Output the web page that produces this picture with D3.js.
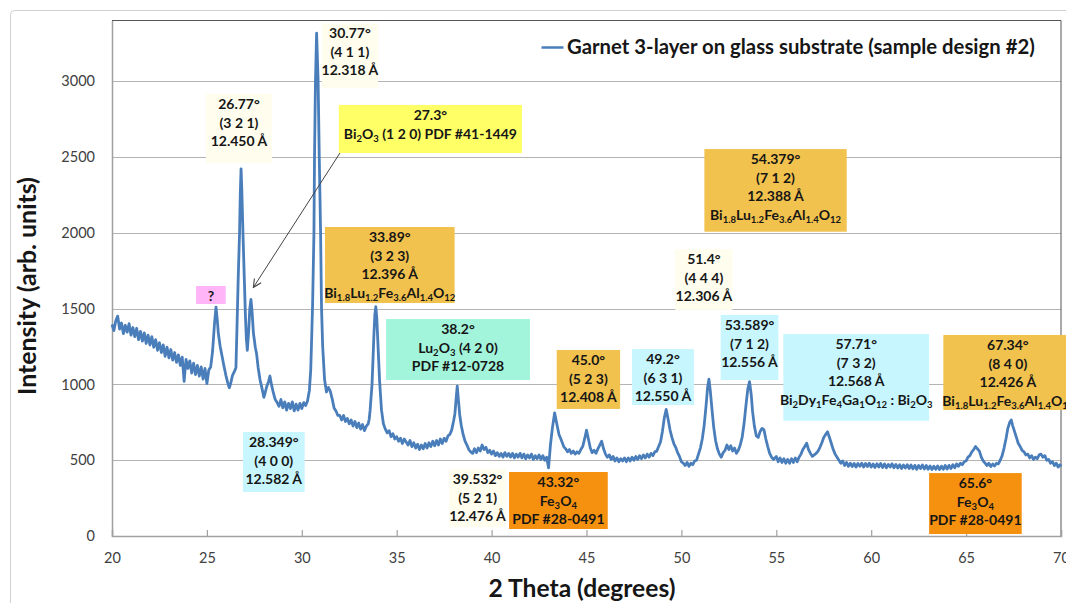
<!DOCTYPE html>
<html><head><meta charset="utf-8">
<script src="https://cdn.jsdelivr.net/npm/d3@7"></script>
<style>
body{margin:0;background:#fff;}
svg{display:block;font-family:Lato,"Open Sans","DejaVu Sans",sans-serif;}
</style>
</head><body>
<svg id="chart" width="1066" height="603"></svg>
<script>
// ---------------- DATA ----------------
const xTicks = [20,25,30,35,40,45,50,55,60,65,70];
const yTicks = [0,500,1000,1500,2000,2500,3000];
const seriesName = "Garnet 3-layer on glass substrate (sample design #2)";
const xTitle = "2 Theta (degrees)";
const yTitle = "Intensity (arb. units)";

// [2theta (deg), intensity (arb. units)]
const scan = [
[20.0,1395],[20.1,1355],[20.2,1420],[20.3,1450],[20.4,1365],[20.5,1405],[20.6,1335],[20.7,1390],[20.8,1345],[20.9,1400],
[21.0,1325],[21.1,1375],[21.2,1315],[21.3,1370],[21.4,1295],[21.5,1350],[21.6,1285],[21.7,1340],[21.8,1270],[21.9,1325],
[22.0,1260],[22.1,1315],[22.2,1245],[22.3,1295],[22.4,1225],[22.5,1275],[22.6,1210],[22.7,1260],[22.8,1185],[22.9,1245],
[23.0,1175],[23.1,1230],[23.2,1160],[23.3,1210],[23.4,1145],[23.5,1195],[23.6,1125],[23.7,1180],[23.8,1020],[23.9,1165],
[24.0,1105],[24.1,1155],[24.2,1075],[24.3,1140],[24.4,1065],[24.5,1125],[24.6,1055],[24.7,1115],[24.8,1035],[24.9,1105],
[25.0,1005],[25.1,1095],[25.2,1115],[25.3,1220],[25.4,1400],[25.48,1510],[25.55,1420],[25.6,1340],[25.7,1250],[25.8,1185],
[25.9,1120],[26.0,1060],[26.1,1010],[26.18,978],[26.25,1005],[26.35,1060],[26.45,1085],[26.53,1110],[26.6,1450],[26.65,1700],
[26.72,2000],[26.76,2260],[26.8,2422],[26.84,2280],[26.9,2000],[26.97,1700],[27.03,1450],[27.08,1300],[27.13,1225],[27.2,1350],
[27.26,1500],[27.32,1560],[27.38,1480],[27.45,1340],[27.55,1245],[27.62,1200],[27.7,1110],[27.8,1030],[27.9,975],[28.0,915],
[28.06,940],[28.15,985],[28.25,1020],[28.32,1055],[28.4,1000],[28.5,945],[28.6,900],[28.7,880],[28.8,855],[28.9,900],
[29.0,845],[29.1,885],[29.2,830],[29.3,875],[29.4,840],[29.5,885],[29.6,825],[29.7,870],[29.8,830],[29.9,875],
[30.0,840],[30.1,880],[30.2,860],[30.3,890],[30.4,960],[30.47,1093],[30.53,1350],[30.57,1533],[30.64,2000],[30.67,2500],
[30.72,3000],[30.78,3316],[30.86,3000],[30.92,2500],[30.99,2000],[31.04,1500],[31.1,1250],[31.2,1030],[31.3,950],[31.4,980],
[31.5,955],[31.6,905],[31.7,845],[31.8,825],[31.9,795],[32.0,795],[32.1,765],[32.2,795],[32.3,755],[32.4,775],
[32.5,740],[32.6,765],[32.7,725],[32.8,755],[32.9,715],[33.0,745],[33.1,705],[33.2,735],[33.3,695],[33.4,725],
[33.5,740],[33.55,770],[33.6,830],[33.7,1000],[33.75,1160],[33.8,1330],[33.85,1460],[33.9,1512],[33.95,1440],[34.0,1300],
[34.05,1160],[34.1,1020],[34.2,830],[34.3,740],[34.4,705],[34.5,680],[34.6,695],[34.7,655],[34.8,675],[34.9,640],
[35.0,655],[35.1,625],[35.2,645],[35.3,610],[35.4,640],[35.5,620],[35.6,600],[35.7,630],[35.8,590],[35.9,615],
[36.0,580],[36.1,605],[36.2,570],[36.3,600],[36.4,575],[36.5,610],[36.6,580],[36.7,615],[36.8,590],[36.9,625],
[37.0,595],[37.1,630],[37.2,600],[37.3,640],[37.4,610],[37.5,645],[37.6,625],[37.7,660],[37.8,670],[37.9,700],
[38.0,760],[38.07,810],[38.14,920],[38.19,988],[38.25,900],[38.32,800],[38.4,730],[38.5,670],[38.6,625],[38.7,600],
[38.8,570],[38.9,555],[39.0,545],[39.1,575],[39.2,550],[39.3,580],[39.4,560],[39.5,600],[39.6,570],[39.7,585],
[39.8,550],[39.9,565],[40.0,540],[40.1,560],[40.2,530],[40.3,550],[40.4,525],[40.5,545],[40.6,520],[40.7,550],
[40.8,525],[40.9,545],[41.0,520],[41.1,545],[41.2,515],[41.3,540],[41.4,520],[41.5,545],[41.6,515],[41.7,540],
[41.8,510],[41.9,535],[42.0,515],[42.1,540],[42.2,505],[42.3,530],[42.4,510],[42.5,535],[42.6,505],[42.7,530],
[42.8,500],[42.9,520],[43.0,450],[43.1,600],[43.2,710],[43.32,812],[43.45,730],[43.55,670],[43.65,640],[43.8,590],
[43.9,575],[44.0,555],[44.1,570],[44.2,545],[44.3,560],[44.4,540],[44.5,555],[44.6,545],[44.7,570],[44.8,590],
[44.9,640],[45.0,698],[45.1,640],[45.2,580],[45.3,550],[45.4,565],[45.5,545],[45.6,575],[45.7,600],[45.8,625],
[45.9,575],[46.0,540],[46.1,520],[46.2,535],[46.3,505],[46.4,525],[46.5,495],[46.6,515],[46.7,490],[46.8,510],
[46.9,495],[47.0,515],[47.1,490],[47.2,515],[47.3,495],[47.4,520],[47.5,500],[47.6,525],[47.7,505],[47.8,530],
[47.9,510],[48.0,535],[48.1,515],[48.2,540],[48.3,520],[48.4,545],[48.5,530],[48.6,555],[48.7,560],[48.8,590],
[48.9,620],[49.0,690],[49.1,780],[49.2,835],[49.3,770],[49.4,700],[49.5,650],[49.6,610],[49.7,585],[49.8,550],
[49.9,525],[50.0,490],[50.1,480],[50.2,465],[50.3,485],[50.4,460],[50.5,480],[50.6,470],[50.7,495],[50.8,500],
[50.9,540],[51.0,580],[51.1,640],[51.2,730],[51.3,860],[51.38,980],[51.45,1034],[51.52,960],[51.6,850],[51.7,720],
[51.8,630],[51.9,575],[52.0,540],[52.1,520],[52.2,550],[52.3,565],[52.4,600],[52.5,570],[52.6,595],[52.7,560],
[52.8,580],[52.9,545],[53.0,565],[53.1,600],[53.2,650],[53.3,740],[53.4,860],[53.5,970],[53.59,1018],[53.68,930],
[53.75,820],[53.85,720],[53.95,660],[54.05,650],[54.15,690],[54.25,710],[54.35,700],[54.45,640],[54.55,590],[54.65,545],
[54.75,520],[54.85,505],[55.0,525],[55.1,490],[55.2,515],[55.3,485],[55.4,510],[55.5,480],[55.6,505],[55.7,480],
[55.8,510],[55.9,485],[56.0,515],[56.1,490],[56.2,520],[56.3,540],[56.4,570],[56.5,590],[56.6,612],[56.7,570],
[56.8,545],[56.9,525],[57.0,535],[57.1,545],[57.2,560],[57.3,585],[57.4,615],[57.5,650],[57.6,670],[57.7,687],
[57.8,650],[57.9,610],[58.0,570],[58.1,540],[58.2,520],[58.3,500],[58.4,480],[58.5,495],[58.6,465],[58.7,485],
[58.8,460],[58.9,480],[59.0,458],[59.1,478],[59.2,455],[59.3,478],[59.4,460],[59.5,480],[59.6,455],[59.7,478],
[59.8,458],[59.9,480],[60.0,455],[60.1,475],[60.2,452],[60.3,476],[60.4,455],[60.5,478],[60.6,452],[60.7,475],
[60.8,450],[60.9,472],[61.0,455],[61.1,476],[61.2,450],[61.3,472],[61.4,448],[61.5,470],[61.6,445],[61.7,468],
[61.8,448],[61.9,470],[62.0,445],[62.1,468],[62.2,443],[62.3,466],[62.4,440],[62.5,465],[62.6,445],[62.7,468],
[62.8,442],[62.9,465],[63.0,440],[63.1,462],[63.2,438],[63.3,460],[63.4,440],[63.5,462],[63.6,438],[63.7,460],
[63.8,440],[63.9,465],[64.0,442],[64.1,466],[64.2,445],[64.3,470],[64.4,450],[64.5,475],[64.6,460],[64.7,480],
[64.8,470],[64.9,490],[65.0,495],[65.1,520],[65.2,530],[65.3,555],[65.4,570],[65.5,590],[65.6,575],[65.7,560],
[65.8,520],[65.9,495],[66.0,480],[66.1,465],[66.2,480],[66.3,458],[66.4,475],[66.5,462],[66.6,480],[66.7,475],
[66.8,500],[66.9,530],[67.0,580],[67.1,640],[67.2,710],[67.3,750],[67.38,765],[67.45,730],[67.55,690],[67.65,650],
[67.75,610],[67.85,590],[67.95,565],[68.05,555],[68.15,535],[68.25,540],[68.35,515],[68.45,530],[68.55,505],[68.65,520],
[68.75,510],[68.85,535],[68.95,540],[69.05,520],[69.15,530],[69.25,500],[69.35,505],[69.45,480],[69.55,490],[69.65,465],
[69.75,480],[69.85,455],[69.95,470],[70.0,458]
];

// peak annotation texts (_{..} = subscript) and their colour kind
const peakLabelText = [
  {id:"A", kind:"cream",  lines:["30.77°","(4 1 1)","12.318 Å"]},
  {id:"B", kind:"cream",  lines:["26.77°","(3 2 1)","12.450 Å"]},
  {id:"C", kind:"yellow", lines:["27.3°","Bi_{2}O_{3} (1 2 0) PDF #41-1449"]},
  {id:"D", kind:"gold",   lines:["33.89°","(3 2 3)","12.396 Å","Bi_{1.8}Lu_{1.2}Fe_{3.6}Al_{1.4}O_{12}"]},
  {id:"E", kind:"pink",   lines:["?"]},
  {id:"F", kind:"cyan",   lines:["28.349°","(4 0 0)","12.582 Å"]},
  {id:"G", kind:"mint",   lines:["38.2°","Lu_{2}O_{3} (4 2 0)","PDF #12-0728"]},
  {id:"H", kind:"cream",  lines:["39.532°","(5 2 1)","12.476 Å"]},
  {id:"I", kind:"orange", lines:["43.32°","Fe_{3}O_{4}","PDF #28-0491"]},
  {id:"J", kind:"gold",   lines:["45.0°","(5 2 3)","12.408 Å"]},
  {id:"K", kind:"cyan",   lines:["49.2°","(6 3 1)","12.550 Å"]},
  {id:"L", kind:"cream",  lines:["51.4°","(4 4 4)","12.306 Å"]},
  {id:"M", kind:"gold",   lines:["54.379°","(7 1 2)","12.388 Å","Bi_{1.8}Lu_{1.2}Fe_{3.6}Al_{1.4}O_{12}"]},
  {id:"N", kind:"cyan",   lines:["53.589°","(7 1 2)","12.556 Å"]},
  {id:"O", kind:"cyan",   lines:["57.71°","(7 3 2)","12.568 Å","Bi_{2}Dy_{1}Fe_{4}Ga_{1}O_{12} : Bi_{2}O_{3}"]},
  {id:"P", kind:"gold",   lines:["67.34°","(8 4 0)","12.426 Å","Bi_{1.8}Lu_{1.2}Fe_{3.6}Al_{1.4}O_{12}"]},
  {id:"Q", kind:"orange", lines:["65.6°","Fe_{3}O_{4}","PDF #28-0491"]}
];

// ---------------- LAYOUT (annotation placement in data units: deg0, deg1, top, bottom) ----------------
const labelPlacement = {
  A:[31.06,34.01,3383,2955], B:[24.95,28.43,2915,2460], C:[31.95,41.60,2843,2526],
  D:[31.22,38.05,2038,1537], E:[24.43,25.99,1649,1530], F:[26.90,30.15,686,290],
  G:[34.44,42.02,1431,1029], H:[37.76,40.76,442,59],   I:[40.92,46.12,422,46],
  J:[43.43,46.77,1227,838],  K:[47.40,50.66,1233,864], L:[49.68,52.69,1893,1491],
  M:[51.21,58.71,2552,2007], N:[52.07,55.11,1458,1029],O:[55.37,63.05,1332,760],
  P:[63.80,70.60,1326,831],  Q:[63.05,67.93,415,13]
};
const arrowPlacement = [[32.01,2526],[27.45,1640]];
const kindFill = {cream:"#FEFDEE", yellow:"#FFFF66", gold:"#F1C24D", pink:"#FFB5F7",
                  cyan:"#C8F6FF", mint:"#A2F5DB", orange:"#F5910F"};

// ---------------- DRAW ----------------
const svg = d3.select("#chart");
const P = {left:112, right:1061, top:20.5, bottom:536};
const x = d3.scaleLinear().domain([20,70]).range([P.left,P.right]);
const y = d3.scaleLinear().domain([0,3400]).range([P.bottom,P.top]);

svg.append("rect").attr("width",1066).attr("height",603).attr("fill","#fff");
svg.append("rect").attr("x",10.5).attr("y",10.5).attr("width",1200).attr("height",800)
   .attr("rx",4).attr("fill","#fff").attr("stroke","#d0d0d0");

// gridlines
svg.append("g").selectAll("line").data(yTicks.filter(d=>d>0)).join("line")
  .attr("x1",P.left).attr("x2",P.right)
  .attr("y1",d=>Math.round(y(d))+0.5).attr("y2",d=>Math.round(y(d))+0.5)
  .attr("stroke","#b4b4b4").attr("stroke-width",1.2);

// plot border top/right
svg.append("path").attr("d",`M${P.left},${P.top}H${P.right}V${P.bottom}`)
  .attr("fill","none").attr("stroke","#555").attr("stroke-width",1);

// axes
const gx = svg.append("g").attr("transform",`translate(0,${P.bottom})`)
  .call(d3.axisBottom(x).tickValues(xTicks).tickSize(-6).tickPadding(17).tickFormat(d3.format("d")));
const gy = svg.append("g").attr("transform",`translate(${P.left},0)`)
  .call(d3.axisLeft(y).tickValues(yTicks).tickSize(0).tickPadding(17).tickFormat(d3.format("d")));
[gx,gy].forEach(g=>{
  g.select(".domain").attr("stroke","#a0a0a0").attr("stroke-width",1.5);
  g.selectAll(".tick line").attr("stroke","#a0a0a0").attr("stroke-width",1.2);
  g.selectAll("text").attr("font-family","Lato, 'Open Sans', sans-serif")
   .attr("font-size",14.5).attr("fill","#404040");
});

// curve
svg.append("path").datum(scan)
  .attr("d",d3.line().x(d=>x(d[0])).y(d=>y(d[1])))
  .attr("fill","none").attr("stroke","#4A7EBB").attr("stroke-width",2.8)
  .attr("stroke-linejoin","round");

// helper: text with subscripts
function richText(sel, str, size){
  const parts = str.split(/(_\{[^}]*\})/).filter(s=>s.length);
  let sub=false;
  parts.forEach(p=>{
    const m = p.match(/^_\{([^}]*)\}$/);
    if(m){
      sel.append("tspan").attr("font-size",size*0.68).attr("dy",sub?0:3.2).text(m[1]);
      sub=true;
    } else {
      sel.append("tspan").attr("dy",sub?-3.2:0).text(p);
      sub=false;
    }
  });
}

// annotation boxes
const boxes = svg.append("g");
peakLabelText.forEach(lab=>{
  const b = labelPlacement[lab.id];
  const x0=x(b[0]), x1=x(b[1]), t=y(b[2]), bt=y(b[3]);
  boxes.append("rect").attr("x",x0).attr("y",t).attr("width",x1-x0).attr("height",bt-t)
     .attr("fill",kindFill[lab.kind]);
  lab.lines.forEach((ln,i)=>{
    const tx = boxes.append("text").attr("x",(x0+x1)/2).attr("y",t+15+i*18.6)
      .attr("text-anchor","middle").attr("font-weight","bold").attr("font-size",14)
      .attr("fill","#161616");
    richText(tx, ln, 14);
  });
});

// arrow
svg.append("defs").append("marker").attr("id","ah").attr("viewBox","0 0 10 10")
  .attr("refX",9).attr("refY",5).attr("markerWidth",10).attr("markerHeight",10)
  .attr("markerUnits","userSpaceOnUse").attr("orient","auto")
  .append("path").attr("d","M1,1L9,5L1,9").attr("fill","none").attr("stroke","#444").attr("stroke-width",1.1);
svg.append("line")
  .attr("x1",x(arrowPlacement[0][0])).attr("y1",y(arrowPlacement[0][1]))
  .attr("x2",x(arrowPlacement[1][0])).attr("y2",y(arrowPlacement[1][1]))
  .attr("stroke","#444").attr("stroke-width",1).attr("marker-end","url(#ah)");

// legend
svg.append("line").attr("x1",541.5).attr("x2",563.5).attr("y1",47.5).attr("y2",47.5)
  .attr("stroke","#4A7EBB").attr("stroke-width",2.5);
const lt = svg.append("text").attr("x",567).attr("y",54).attr("font-weight","bold")
  .attr("font-size",17).attr("fill","#161616").text(seriesName);
function fit(t, target){
  const w = t.node().getComputedTextLength();
  const fs = +t.attr("font-size");
  t.attr("font-size", fs*target/w);
}
fit(lt, 468);

// axis titles
const xt = svg.append("text").attr("x",582).attr("y",597).attr("text-anchor","middle")
  .attr("font-weight","bold").attr("font-size",21).attr("fill","#161616").text(xTitle);
fit(xt, 187);
const yt = svg.append("text").attr("transform","translate(36,286) rotate(-90)")
  .attr("text-anchor","middle").attr("font-weight","bold").attr("font-size",21)
  .attr("fill","#161616").text(yTitle);
fit(yt, 218);
</script>
</body></html>
